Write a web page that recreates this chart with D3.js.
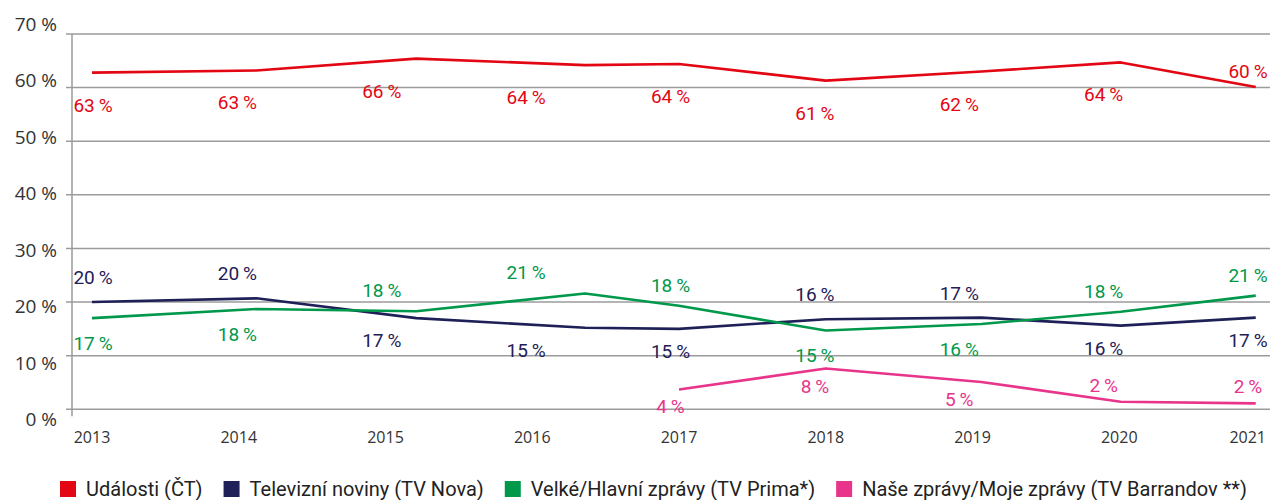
<!DOCTYPE html>
<html>
<head>
<meta charset="utf-8">
<script src="https://cdn.jsdelivr.net/npm/d3@7"></script>
<style>
  body { margin: 0; background: #fff; }
  svg { display: block; }
</style>
</head>
<body>
<div class="chartContainer"></div>
<script>
// data
const years = [2013, 2014, 2015, 2016, 2017, 2018, 2019, 2020, 2021]
// where each survey point sits on the year axis
const surveyPos = [2013, 2014.12, 2015.21, 2016.36, 2017.0, 2018.0, 2019.06, 2020.01, 2020.93]
const yTicks = [0, 10, 20, 30, 40, 50, 60, 70]

const udalosti = [62.8, 63.2, 65.4, 64.2, 64.4, 61.3, 63.0, 64.7, 60.1]
const udalostiLabels = [63, 63, 66, 64, 64, 61, 62, 64, 60]
const nova = [20.0, 20.7, 17.0, 15.2, 15.0, 16.8, 17.1, 15.6, 17.1]
const novaLabels = [20, 20, 17, 15, 15, 16, 17, 16, 17]
const prima = [17.0, 18.7, 18.3, 21.6, 19.3, 14.7, 15.9, 18.2, 21.2]
const primaLabels = [17, 18, 18, 21, 18, 15, 16, 18, 21]
const barrandov = [null, null, null, null, 3.7, 7.6, 5.1, 1.4, 1.1]
const barrandovLabels = [null, null, null, null, 4, 8, 5, 2, 2]

const seriesNames = [
  "Události (ČT)",
  "Televizní noviny (TV Nova)",
  "Velké/Hlavní zprávy (TV Prima*)",
  "Naše zprávy/Moje zprávy (TV Barrandov **)"
]

// styling / label placement
const colors = ["#e30613", "#1e2057", "#00984a", "#e8348b"]
const sides = [
  "bbbbbbbba",
  "aabbbaabb",
  "bbaaabbaa",
  "----bbbaa"
]
const gapBelow = [32, 22, 25, 17]
const gapAbove = [16, 25, 21, 17]

const series = [
  {values: udalosti, labels: udalostiLabels},
  {values: nova, labels: novaLabels},
  {values: prima, labels: primaLabels},
  {values: barrandov, labels: barrandovLabels}
]

const W = 1285, H = 500
const svg = d3.select(".chartContainer").append("svg")
  .attr("width", W).attr("height", H)

const x = d3.scaleLinear().domain([2013, 2021]).range([92, 1266])
const xLab = d3.scaleLinear().domain([2013, 2021]).range([93, 1248])
const y = d3.scaleLinear().domain([0, 70]).range([409.3, 34])
const yLab = d3.scaleLinear().domain([0, 70]).range([426, 31])

// grid
svg.append("g").selectAll("line")
  .data(yTicks)
  .enter()
  .append("line")
  .attr("x1", 66).attr("x2", 1270)
  .attr("y1", d => y(d)).attr("y2", d => y(d))
  .attr("stroke", "#9b9b9b").attr("stroke-width", 1.5)

svg.append("line")
  .attr("x1", 72).attr("x2", 72)
  .attr("y1", y(70)).attr("y2", y(0) + 7)
  .attr("stroke", "#9b9b9b").attr("stroke-width", 1.5)

// y labels
svg.append("g").selectAll("text")
  .data(yTicks)
  .enter()
  .append("text")
  .attr("x", 57)
  .attr("y", d => yLab(d))
  .attr("text-anchor", "end")
  .attr("font-family", "'Open Sans', sans-serif")
  .attr("font-size", 19)
  .attr("fill", "#333")
  .text(d => d + " %")

// x labels
svg.append("g").selectAll("text")
  .data(years)
  .enter()
  .append("text")
  .attr("x", d => x(d))
  .attr("y", 443)
  .attr("text-anchor", (d, i) => i === years.length - 1 ? "end" : "middle")
  .attr("font-family", "'Open Sans', sans-serif")
  .attr("font-size", 16)
  .attr("fill", "#333")
  .text(d => d)

// lines
const line = d3.line()
  .defined(d => d[1] != null)
  .x(d => x(d[0]))
  .y(d => y(d[1]))

series.forEach((s, k) => {
  const pts = s.values.map((v, i) => [surveyPos[i], v])
  svg.append("path")
    .datum(pts)
    .attr("d", line)
    .attr("fill", "none")
    .attr("stroke", colors[k])
    .attr("stroke-width", 2.6)
    .attr("stroke-linejoin", "round")
})

// value labels
series.forEach((s, k) => {
  svg.append("g").selectAll("text")
    .data(s.labels.map((l, i) => ({l: l, v: s.values[i], i: i})).filter(d => d.l != null))
    .enter()
    .append("text")
    .attr("x", d => xLab(years[d.i]))
    .attr("y", d => sides[k][d.i] === "a" ? y(d.v) - gapAbove[k] + 7 : y(d.v) + gapBelow[k] + 7)
    .attr("text-anchor", "middle")
    .attr("font-family", "Roboto, sans-serif")
    .attr("font-size", 19)
    .attr("fill", colors[k])
    .text(d => d.l + "\u2009%")
})

// legend
const legend = svg.append("g").attr("transform", "translate(60,481)")
let lx = 0
seriesNames.forEach((name, k) => {
  const g = legend.append("g").attr("transform", `translate(${lx},0)`)
  g.append("rect").attr("width", 16).attr("height", 16).attr("fill", colors[k])
  const t = g.append("text")
    .attr("x", 26).attr("y", 15)
    .attr("font-family", "Roboto, sans-serif")
    .attr("font-size", 20)
    .attr("fill", "#222")
    .text(name)
  lx += 26 + t.node().getComputedTextLength() + 21
})
</script>
</body>
</html>
